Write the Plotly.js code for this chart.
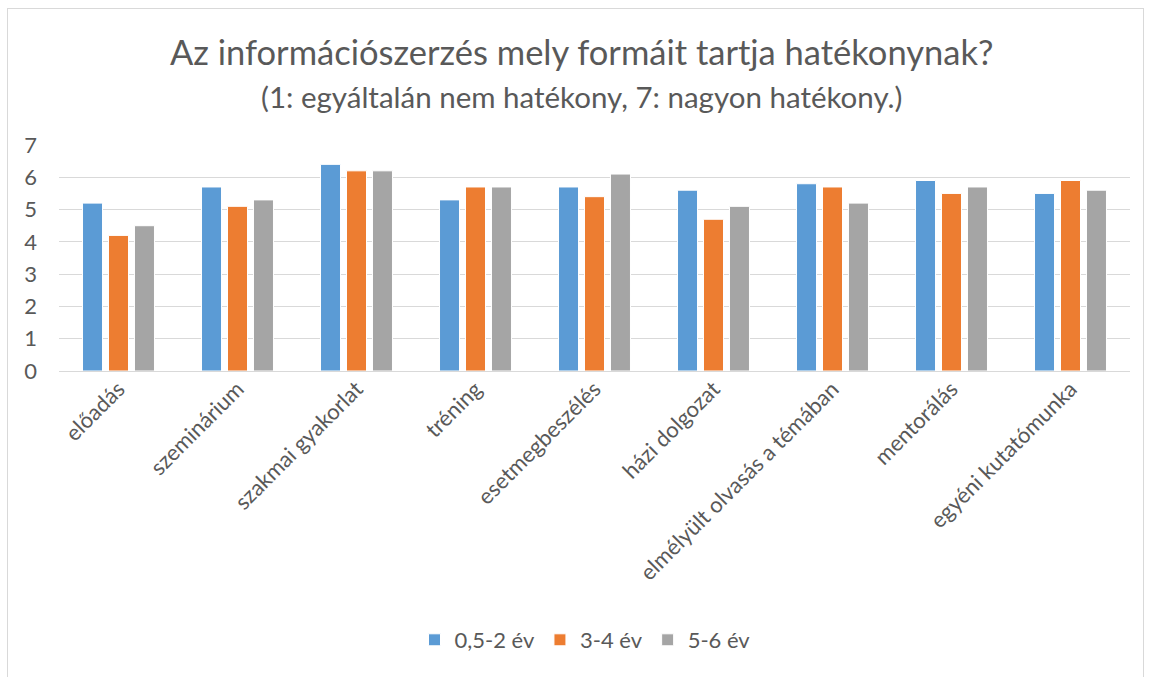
<!DOCTYPE html>
<html>
<head>
<meta charset="utf-8">
<script src="https://cdn.plot.ly/plotly-3.0.1.min.js"></script>
<style>
  html, body { margin: 0; padding: 0; background: #fff; }
  #chart { width: 1151px; height: 677px; }
  #frame { position: absolute; left: 7px; top: 8px; width: 1135px; height: 700px; border: 1px solid #d9d9d9; pointer-events: none; }
</style>
</head>
<body>
<div id="chart"></div>
<div id="frame"></div>
<script>
const categories = ["előadás", "szeminárium", "szakmai gyakorlat", "tréning", "esetmegbeszélés", "házi dolgozat", "elmélyült olvasás a témában", "mentorálás", "egyéni kutatómunka"];
const seriesNames = ["0,5-2 év", "3-4 év", "5-6 év"];
const s1 = [5.2, 5.7, 6.4, 5.3, 5.7, 5.6, 5.8, 5.9, 5.5];
const s2 = [4.2, 5.1, 6.2, 5.7, 5.4, 4.7, 5.7, 5.5, 5.9];
const s3 = [4.5, 5.3, 6.2, 5.7, 6.1, 5.1, 5.2, 5.7, 5.6];
const yTicks = [0, 1, 2, 3, 4, 5, 6, 7];
const titleText = "Az információszerzés mely formáit tartja hatékonynak?";
const subtitleText = "(1: egyáltalán nem hatékony, 7: nagyon hatékony.)";

const colors = ["#5b9bd5", "#ed7d31", "#a5a5a5"];
const font = "Lato, 'Open Sans', sans-serif";
const values = [s1, s2, s3];

const traces = values.map((v, i) => ({
  type: "bar",
  name: seriesNames[i],
  x: categories,
  y: v,
  marker: { color: colors[i], line: { color: "#ffffff", width: 1 } },
  hoverinfo: "x+y+name"
}));

const plotLeft = 59, plotRight = 1130, plotTop = 145, plotBottom = 371;
const plotW = plotRight - plotLeft, plotH = plotBottom - plotTop;
const pyToPaper = px => (plotBottom - px) / plotH;
const pxToPaper = px => (px - plotLeft) / plotW;

const layout = {
  width: 1151,
  height: 677,
  paper_bgcolor: "#ffffff",
  plot_bgcolor: "#ffffff",
  font: { family: font, color: "#595959", size: 22 },
  margin: { l: plotLeft, r: 1151 - plotRight, t: plotTop, b: 677 - plotBottom },
  annotations: [
    { text: titleText, xref: "paper", yref: "paper", x: pxToPaper(581), y: pyToPaper(52), xanchor: "center", yanchor: "middle",
      showarrow: false, font: { family: font, size: 34.5, color: "#595959" } },
    { text: subtitleText, xref: "paper", yref: "paper", x: pxToPaper(581), y: pyToPaper(96), xanchor: "center", yanchor: "middle",
      showarrow: false, font: { family: font, size: 29.5, color: "#595959" } }
  ],
  barmode: "group",
  bargap: 0.345,
  bargroupgap: 0.23,
  xaxis: {
    type: "category",
    tickangle: -45,
    tickfont: { family: font, size: 22, color: "#595959" },
    showgrid: false,
    showline: false,
    ticks: "",
    automargin: false,
    fixedrange: true
  },
  yaxis: {
    range: [0, 7],
    tickvals: yTicks,
    ticktext: yTicks.map(String),
    tickfont: { family: font, size: 22, color: "#595959" },
    showgrid: true,
    gridcolor: "#d9d9d9",
    gridwidth: 1,
    zeroline: true,
    zerolinecolor: "#d9d9d9",
    zerolinewidth: 1,
    showline: false,
    ticks: "",
    ticklabelstandoff: 21,
    automargin: false,
    fixedrange: true
  },
  showlegend: true,
  legend: {
    orientation: "h",
    x: pxToPaper(585), xanchor: "center",
    yref: "container", y: 1 - 640 / 677, yanchor: "middle",
    font: { family: font, size: 22, color: "#595959" },
    itemwidth: 30
  }
};

Plotly.newPlot("chart", traces, layout, { displayModeBar: false, responsive: false });
</script>
</body>
</html>
